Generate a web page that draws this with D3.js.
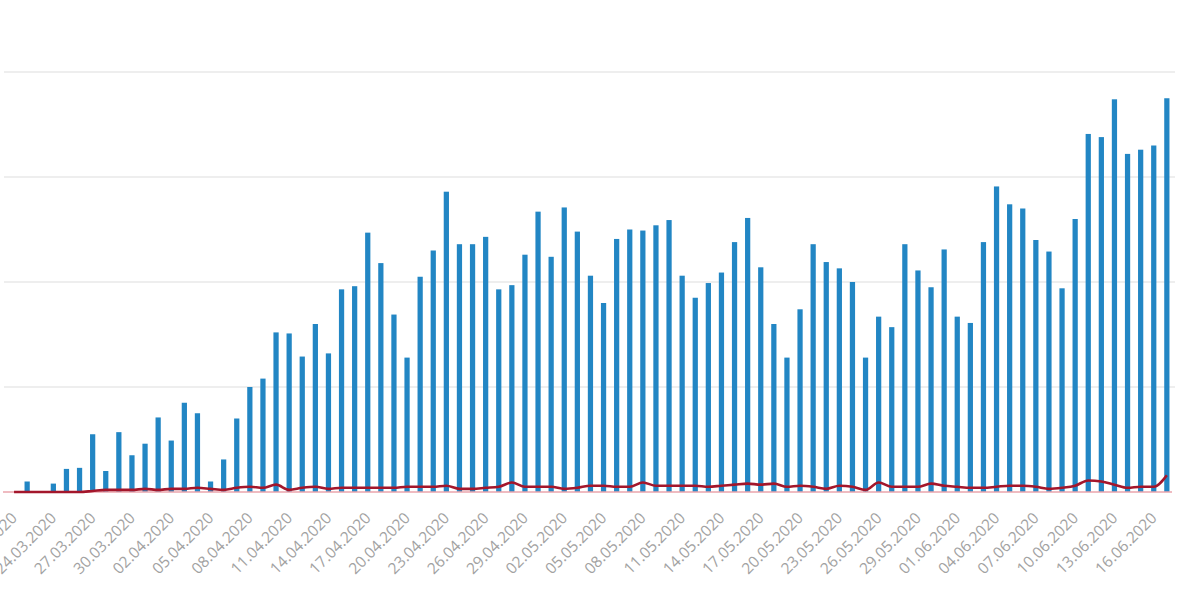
<!DOCTYPE html>
<html>
<head>
<meta charset="utf-8">
<script src="https://cdn.jsdelivr.net/npm/d3@7"></script>
<style>
  html, body { margin: 0; padding: 0; background: #ffffff; }
  svg { display: block; }
</style>
</head>
<body>
<svg id="chart" width="1200" height="604"></svg>
<script>
// ---- data ----
const startDate = "21.03.2020";
const dayCount = 89; // 21.03.2020 .. 17.06.2020
const barValues = [
  // March 21-31
  0, 10, 0, 8, 22, 23, 55, 20, 57, 35, 46,
  // April 1-30
  71, 49, 85, 75, 10, 31, 70, 100, 108, 152, 151, 129, 160, 132, 193, 196, 247, 218, 169, 128,
  205, 230, 286, 236, 236, 243, 193, 197, 226, 267,
  // May 1-31
  224, 271, 248, 206, 180, 241, 250, 249, 254, 259, 206, 185, 199, 209, 238, 261, 214, 160, 128, 174,
  236, 219, 213, 200, 128, 167, 157, 236, 211, 195, 231,
  // June 1-17
  167, 161, 238, 291, 274, 270, 240, 229, 194, 260, 341, 338, 374, 322, 326, 330, 375
];
const lineValues = [
  0, 0, 0, 0, 0, 0, 1, 2, 2, 2, 3,
  2, 3, 3, 4, 3, 2, 4, 5, 4, 7, 2, 4, 5, 3, 4, 4, 4, 4, 4, 5,
  5, 5, 6, 3, 3, 4, 5, 9, 5, 5,
  5, 3, 4, 6, 6, 5, 5, 9, 6, 6, 6, 6, 5, 6, 7, 8, 7, 8, 5, 6,
  5, 3, 6, 5, 2, 9, 5, 5, 5, 8, 6,
  5, 4, 4, 5, 6, 6, 5, 3, 4, 6, 11, 10, 7, 4, 5, 5, 16
];
const gridValues = [100, 200, 300, 400];
const tickEvery = 3;

// ---- build dates ----
const parse = d3.timeParse("%d.%m.%Y");
const fmt = d3.timeFormat("%d.%m.%Y");
const d0 = parse(startDate);
const dates = d3.range(dayCount).map(i => d3.timeDay.offset(d0, i));
const labels = dates.map(fmt);
const tickLabels = labels.filter((_, i) => i % tickEvery === 0);

// ---- layout ----
const svg = d3.select("#chart");
const left = 7.5, right = 1173.4, baseY = 492, topY = 72;

const x = d3.scaleBand().domain(labels).range([left, right]).paddingInner(0.6).paddingOuter(0.3);
const y = d3.scaleLinear().domain([0, 400]).range([baseY, topY]);

// gridlines
svg.append("g").selectAll("line").data(gridValues).join("line")
  .attr("x1", 4).attr("x2", 1175)
  .attr("y1", d => y(d)).attr("y2", d => y(d))
  .attr("stroke", "#eeeeee").attr("stroke-width", 2);

// bars
svg.append("g").selectAll("rect").data(barValues).join("rect")
  .attr("x", (d, i) => x(labels[i]))
  .attr("width", x.bandwidth())
  .attr("y", d => y(d))
  .attr("height", d => baseY - y(d))
  .attr("fill", "#2286c4");

// baseline
svg.append("line")
  .attr("x1", 3).attr("x2", 1172)
  .attr("y1", baseY).attr("y2", baseY)
  .attr("stroke", "#eaa5ad").attr("stroke-width", 1.5);

// red line
const line = d3.line()
  .x((d, i) => x(labels[i]) + x.bandwidth() / 2)
  .y(d => y(d))
  .curve(d3.curveMonotoneX);
svg.append("path")
  .datum(lineValues)
  .attr("d", line)
  .attr("fill", "none")
  .attr("stroke", "#a3162b")
  .attr("stroke-width", 2.6)
  .attr("stroke-linejoin", "round");

// x axis labels
const axis = d3.axisBottom(x).tickValues(tickLabels).tickSize(0).tickPadding(0);
const gx = svg.append("g").attr("transform", `translate(0,${baseY})`).call(axis);
gx.select(".domain").remove();
gx.selectAll("text")
  .attr("fill", "#a2a2a2")
  .attr("font-family", "'Open Sans', 'Noto Sans', sans-serif")
  .attr("font-size", 15.5)
  .attr("dy", 0)
  .attr("text-anchor", "end")
  .attr("transform", "translate(4,27) rotate(-45)");
</script>
</body>
</html>
